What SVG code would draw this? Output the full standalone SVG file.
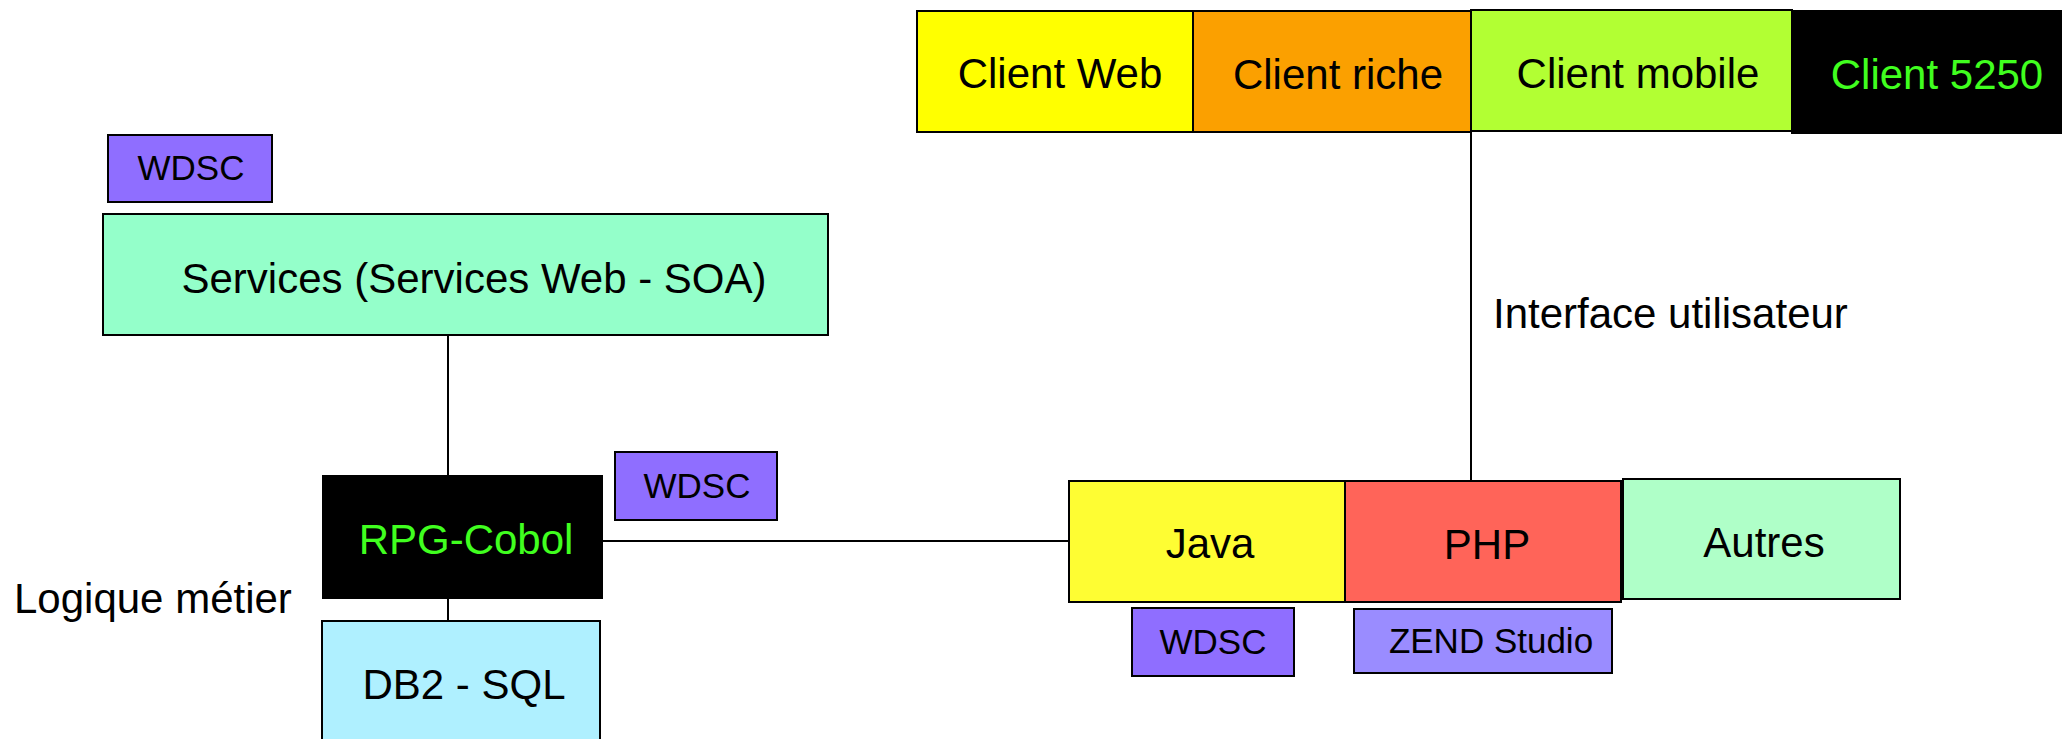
<svg xmlns="http://www.w3.org/2000/svg" width="2062" height="739" viewBox="0 0 2062 739">
<style>
.b{stroke:#000;stroke-width:2}
.t{font-family:"Liberation Sans",Arial,sans-serif;font-size:42px;fill:#000;text-anchor:middle}
.s{font-size:35px}
.g{fill:#40FF1F}
.c{stroke:#000;stroke-width:2;fill:none}
.tool{fill:#8F6EFF}
</style>
<rect width="2062" height="739" fill="#fff"/>
<g id="connectors">
<line class="c" x1="448" y1="335" x2="448" y2="476"/>
<line class="c" x1="448" y1="598" x2="448" y2="621"/>
<line class="c" x1="602" y1="541" x2="1069" y2="541"/>
<line class="c" x1="1471" y1="132" x2="1471" y2="481"/>
</g>
<g id="client-web"><rect class="b" x="917" y="11" width="276" height="121" fill="#FFFF00"/><text class="t" x="1060" y="88">Client Web</text></g>
<g id="client-riche"><rect class="b" x="1193" y="11" width="278" height="121" fill="#FBA000"/><text class="t" x="1338" y="89">Client riche</text></g>
<g id="client-mobile"><rect class="b" x="1471" y="10" width="321" height="121" fill="#B2FF33"/><text class="t" x="1638" y="88">Client mobile</text></g>
<g id="client-5250"><rect class="b" x="1792" y="11" width="275" height="122" fill="#000"/><text class="t g" x="1937" y="89">Client 5250</text></g>
<g id="label-interface"><text class="t" x="1493" y="328" style="text-anchor:start">Interface utilisateur</text></g>
<g id="wdsc-1"><rect class="b tool" x="108" y="135" width="164" height="67"/><text class="t s" x="191" y="180">WDSC</text></g>
<g id="services"><rect class="b" x="103" y="214" width="725" height="121" fill="#94FFCA"/><text class="t" x="474" y="293">Services (Services Web - SOA)</text></g>
<g id="rpg-cobol"><rect class="b" x="323" y="476" width="279" height="122" fill="#000"/><text class="t g" x="466" y="554">RPG-Cobol</text></g>
<g id="wdsc-2"><rect class="b tool" x="615" y="452" width="162" height="68"/><text class="t s" x="697" y="498">WDSC</text></g>
<g id="label-logique"><text class="t" x="14" y="613" style="text-anchor:start">Logique métier</text></g>
<g id="db2"><rect class="b" x="322" y="621" width="278" height="130" fill="#AFF0FF"/><text class="t" x="464" y="699">DB2 - SQL</text></g>
<g id="java"><rect class="b" x="1069" y="481" width="276" height="121" fill="#FEFD33"/><text class="t" x="1210" y="558">Java</text></g>
<g id="php"><rect class="b" x="1345" y="481" width="276" height="121" fill="#FF6459"/><text class="t" x="1487" y="559">PHP</text></g>
<g id="autres"><rect class="b" x="1623" y="479" width="277" height="120" fill="#AFFFC8"/><text class="t" x="1764" y="557">Autres</text></g>
<g id="wdsc-3"><rect class="b tool" x="1132" y="608" width="162" height="68"/><text class="t s" x="1213" y="654">WDSC</text></g>
<g id="zend"><rect class="b" x="1354" y="609" width="258" height="64" fill="#9A8CFF"/><text class="t s" x="1491" y="653">ZEND Studio</text></g>
</svg>
